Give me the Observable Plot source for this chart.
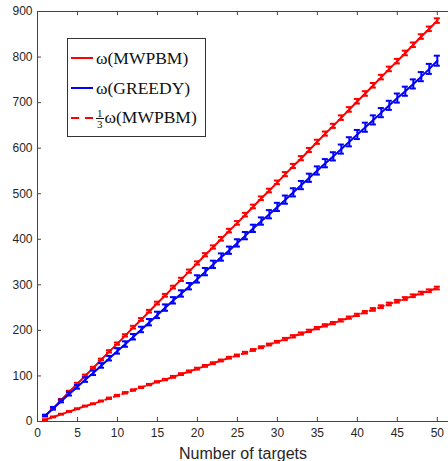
<!DOCTYPE html>
<html>
<head>
<meta charset="utf-8">
<script src="https://cdn.jsdelivr.net/npm/d3@7"></script>
<script src="https://cdn.jsdelivr.net/npm/@observablehq/plot@0.6"></script>
<style>
  html, body { margin: 0; padding: 0; background: #fff; }
  #wrap { position: relative; width: 448px; height: 461px; }
  #legend {
    position: absolute; left: 67px; top: 38px; width: 139px; height: 99px;
    border: 1px solid #333; background: #fff; box-sizing: border-box;
    font-family: "Liberation Serif", "DejaVu Serif", serif; font-size: 17.5px; color: #111;
  }
  .row { position: absolute; left: 2px; height: 22px; display: flex; align-items: center; white-space: nowrap; }
  .row svg { display: block; }
  .frac { display: inline-flex; flex-direction: column; align-items: center; font-size: 11px; line-height: 10px; margin-right: 1px; vertical-align: middle; }
  .frac .n { border-bottom: 1px solid #111; padding: 0 1px; }
</style>
</head>
<body>
<div id="wrap"></div>
<script>
const targets = d3.range(1, 51);
const mwpbm = [13,30,48,66,83,101,118,136,154,171,189,207,224,242,260,277,295,312,330,348,366,383,401,419,436,454,472,490,507,525,543,561,578,596,614,632,649,667,685,703,720,738,756,774,791,809,827,845,862,880];
const mwpbmErr = [1,1,1.5,1.5,2,2,2,2,2.5,2.5,2.5,3,3,3,3,3,3,3.5,3.5,3.5,3.5,3.5,4,4,4,4,4,4,4,4,4.5,4.5,4.5,4.5,4.5,4.5,4.5,5,5,5,5,5,5,5,5,5,5,5,5,5];
const greedy = [13,29,45,61,76,92,107,123,139,155,170,186,202,218,234,250,266,281,297,313,329,345,361,376,392,408,424,440,455,471,487,503,519,535,551,567,582,598,614,630,646,662,678,694,710,725,741,757,774,792];
const greedyErr = [2,3,3,4,4,5,5,5,5,6,6,6,6,7,7,7,7,7,7,8,8,8,8,8,8,8,8,8,9,9,9,9,9,9,9,9,9,10,10,10,10,10,10,10,10,10,10,10,11,11];
const third = [4,10,16,22,28,34,39,45,51,57,63,69,75,81,87,92,98,104,110,116,122,128,134,140,145,151,157,163,169,175,181,187,193,199,205,211,216,222,228,234,240,246,252,258,264,270,276,282,287,293];
const thirdErr = [1,1,1,1,1,1,1,1,1.5,1.5,1.5,1.5,1.5,1.5,1.5,1.5,2,2,2,2,2,2,2,2,2,2,2,2,2,2,2.5,2.5,2.5,2.5,2.5,2.5,2.5,2.5,2.5,2.5,2.5,3,3,3,3,3,3,3,3,3];
const xTicks = [0,5,10,15,20,25,30,35,40,45,50];
const yTicks = [0,100,200,300,400,500,600,700,800,900];
const xLabel = "Number of targets";

const series = [
  {name: "MWPBM", color: "#ff0000", vals: mwpbm, err: mwpbmErr, dash: null},
  {name: "GREEDY", color: "#0000ff", vals: greedy, err: greedyErr, dash: null},
  {name: "third", color: "#ff0000", vals: third, err: thirdErr, dash: "6,3"}
];

const marks = [];
marks.push(Plot.ruleX([0], {stroke: "#444", strokeWidth: 1}));
marks.push(Plot.ruleY([0], {stroke: "#444", strokeWidth: 1}));
marks.push(Plot.ruleY([900], {stroke: "#444", strokeWidth: 1}));
marks.push(Plot.ruleX(xTicks.slice(1), {x: d => d, y1: 0, y2: 9, stroke: "#444"}));
marks.push(Plot.ruleX(xTicks.slice(1), {x: d => d, y1: 900, y2: 891, stroke: "#444"}));
marks.push(Plot.ruleY(yTicks, {y: d => d, x1: 0, x2: 0.5, stroke: "#444"}));

for (const s of series) {
  const data = targets.map((t, i) => ({t, v: s.vals[i], lo: s.vals[i] - s.err[i], hi: s.vals[i] + s.err[i]}));
  marks.push(Plot.line(data, {x: "t", y: "v", stroke: s.color, strokeWidth: 2, strokeDasharray: s.dash}));
  marks.push(Plot.ruleX(data, {x: "t", y1: "lo", y2: "hi", stroke: s.color, strokeWidth: 2}));
  marks.push(Plot.ruleY(data, {y: "lo", x1: d => d.t - 0.38, x2: d => d.t + 0.38, stroke: s.color, strokeWidth: 2}));
  marks.push(Plot.ruleY(data, {y: "hi", x1: d => d.t - 0.38, x2: d => d.t + 0.38, stroke: s.color, strokeWidth: 2}));
}

const chart = Plot.plot({
  width: 448,
  height: 461,
  marginLeft: 37,
  marginRight: 0,
  marginTop: 11,
  marginBottom: 40,
  style: {fontFamily: "'Liberation Sans', Arial, sans-serif", fontSize: "12px", color: "#262626", background: "#fff"},
  x: {domain: [0, 51.4], ticks: xTicks, tickSize: 0, tickPadding: 7, label: xLabel, labelAnchor: "center", labelOffset: 37},
  y: {domain: [0, 900], ticks: yTicks, tickSize: 0, tickPadding: 5, label: null},
  marks
});
chart.querySelectorAll("g[aria-label='x-axis label'] text").forEach(e => {
  e.textContent = xLabel;
  e.setAttribute("font-size", "16px");
});
document.getElementById("wrap").appendChild(chart);

const legend = document.createElement("div");
legend.id = "legend";
const rows = [
  {top: 8, color: "#ff0000", dash: null, html: "ω(MWPBM)"},
  {top: 38, color: "#0000ff", dash: null, html: "ω(GREEDY)"},
  {top: 68, color: "#ff0000", dash: "8,6", html: "<span class='frac'><span class='n'>1</span><span>3</span></span>ω(MWPBM)"}
];
for (const r of rows) {
  const row = document.createElement("div");
  row.className = "row";
  row.style.top = r.top + "px";
  row.innerHTML = `<svg width="26" height="22"><line x1="1" x2="23" y1="11" y2="11" stroke="${r.color}" stroke-width="2" ${r.dash ? `stroke-dasharray="${r.dash}"` : ""}/></svg><span>${r.html}</span>`;
  legend.appendChild(row);
}
document.getElementById("wrap").appendChild(legend);
</script>
</body>
</html>
